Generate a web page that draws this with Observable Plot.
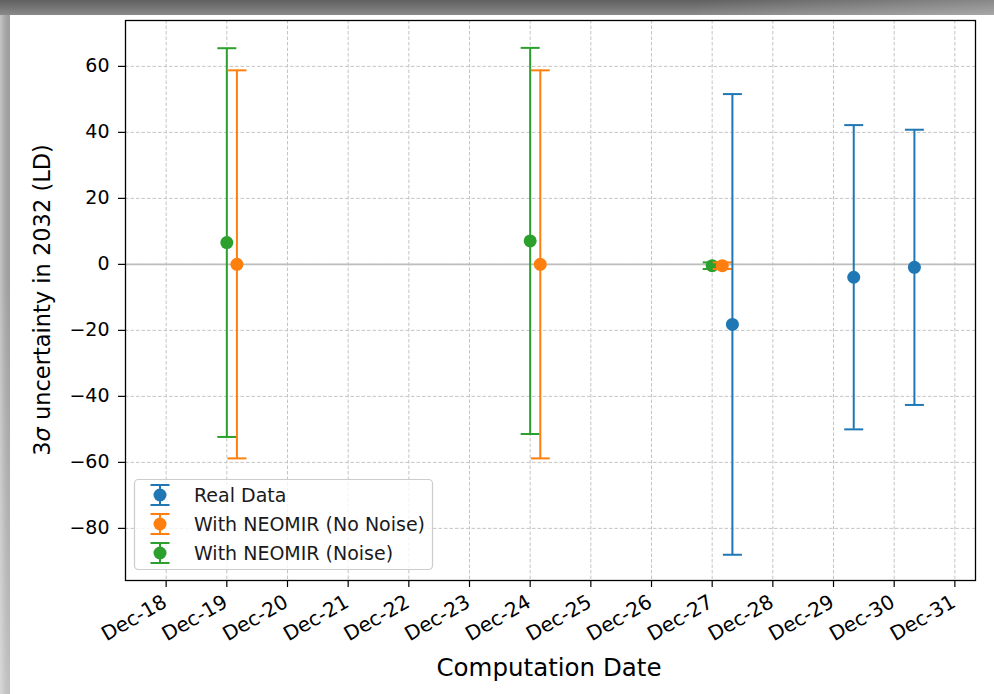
<!DOCTYPE html>
<html><head><meta charset="utf-8">
<script src="https://cdn.jsdelivr.net/npm/d3@7"></script>
<script src="https://cdn.jsdelivr.net/npm/@observablehq/plot@0.6"></script>
<style>
html,body{margin:0;padding:0;background:#fff;}
#wrap{position:relative;width:994px;height:694px;overflow:hidden;background:#fff;font-family:"DejaVu Sans",sans-serif;}
#chart{position:absolute;left:0;top:0;}
#topband{position:absolute;left:0;top:0;width:994px;height:15px;background:linear-gradient(to bottom,#606060,#8a8a8a);}
#topband2{position:absolute;left:0;top:0;width:994px;height:15px;background:linear-gradient(to right,rgba(255,255,255,0) 70%,rgba(255,255,255,0.25));}
#leftband{position:absolute;left:0;top:0;width:10px;height:694px;background:linear-gradient(to right,#c4c4c4,#a4a4a4 60%,#9c9c9c);}
#leftband2{position:absolute;left:0;top:0;width:10px;height:694px;background:linear-gradient(to bottom,rgba(255,255,255,0) 40%,rgba(255,255,255,0.35));}
</style>
</head><body>
<div id="wrap"><div id="chart"></div><div id="leftband"></div><div id="leftband2"></div><div id="topband"></div><div id="topband2"></div></div>
<script>
// ---- data ----
const seriesNames = ["Real Data", "With NEOMIR (No Noise)", "With NEOMIR (Noise)"];
const seriesColors = ["#1f77b4", "#ff7f0e", "#2ca02c"];

const realDates = ["2024-12-27T08:00Z", "2024-12-29T08:00Z", "2024-12-30T08:00Z"];
const realValues = [-18.2, -3.9, -0.9];
const realErrors = [69.8, 46.1, 41.7];

const noNoiseDates = ["2024-12-19T04:00Z", "2024-12-24T04:00Z", "2024-12-27T04:00Z"];
const noNoiseValues = [0.0, 0.0, -0.4];
const noNoiseErrors = [58.8, 58.8, 1.0];

const noiseDates = ["2024-12-19T00:00Z", "2024-12-24T00:00Z", "2024-12-27T00:00Z"];
const noiseValues = [6.6, 7.1, -0.4];
const noiseErrors = [58.9, 58.5, 1.0];

const xTickLabels = ["Dec-18","Dec-19","Dec-20","Dec-21","Dec-22","Dec-23","Dec-24","Dec-25","Dec-26","Dec-27","Dec-28","Dec-29","Dec-30","Dec-31"];
const yTicks = [-80, -60, -40, -20, 0, 20, 40, 60];
const xLabel = "Computation Date";
const yLabelParts = ["3", "σ", " uncertainty in 2032 (LD)"];

// ---- build ----
const parseTick = d3.utcParse("%Y-%b-%d");
const tickDates = xTickLabels.map(s => parseTick("2024-" + s));
function rows(dates, values, errors) {
  return dates.map((d, i) => ({date: new Date(d), value: values[i], lo: values[i] - errors[i], hi: values[i] + errors[i]}));
}
const series = [
  {data: rows(realDates, realValues, realErrors), color: seriesColors[0]},
  {data: rows(noNoiseDates, noNoiseValues, noNoiseErrors), color: seriesColors[1]},
  {data: rows(noiseDates, noiseValues, noiseErrors), color: seriesColors[2]}
];
const drawOrder = [2, 1, 0];

const capSymbol = {draw(ctx, size) { const r = Math.sqrt(size / Math.PI); ctx.moveTo(-r, 0); ctx.lineTo(r, 0); }};

const errMarks = [];
for (const s of drawOrder) {
  const {data, color} = series[s];
  errMarks.push(Plot.ruleX(data, {x: "date", y1: "lo", y2: "hi", stroke: color, strokeWidth: 2}));
  errMarks.push(Plot.dot(data, {x: "date", y: "lo", symbol: capSymbol, r: 9.5, stroke: color, strokeWidth: 2, fill: "none"}));
  errMarks.push(Plot.dot(data, {x: "date", y: "hi", symbol: capSymbol, r: 9.5, stroke: color, strokeWidth: 2, fill: "none"}));
  errMarks.push(Plot.dot(data, {x: "date", y: "value", r: 6.5, fill: color, stroke: "none"}));
}

const tickFmt = d3.utcFormat("%b-%d");
const chart = Plot.plot({
  width: 994, height: 694,
  marginLeft: 125, marginRight: 19, marginTop: 20, marginBottom: 114,
  style: {fontFamily: "'DejaVu Sans', sans-serif", fontSize: "19px", color: "#000", background: "transparent", overflow: "visible"},
  x: {type: "utc", domain: [new Date("2024-12-17T07:55Z"), new Date("2024-12-31T08:10Z")]},
  y: {domain: [-95.8, 73.9]},
  marks: [
    Plot.gridX(tickDates, {stroke: "#c4c4c4", strokeOpacity: 1, strokeWidth: 1, strokeDasharray: "3.5,2"}),
    Plot.gridY(yTicks, {stroke: "#c4c4c4", strokeOpacity: 1, strokeWidth: 1, strokeDasharray: "3.5,2"}),
    Plot.ruleY([0], {stroke: "#bdbdbd", strokeWidth: 1.6}),
    ...errMarks,
    Plot.frame({stroke: "#000", strokeWidth: 1.3}),
    // tick marks only
    Plot.axisX(tickDates, {tickFormat: () => "", tickSize: 7, label: null, stroke: "#000", strokeWidth: 1.2}),
    // rotated tick labels
    Plot.text(tickDates, {x: d => d, text: d => tickFmt(d), frameAnchor: "bottom", rotate: -30, textAnchor: "end", lineAnchor: "top", dy: 13, dx: -5, fontSize: 20, fill: "#000"}),
    Plot.axisY(yTicks, {tickSize: 7, tickPadding: 9, fontSize: 19, label: null, stroke: "#000", strokeWidth: 1.2, color: "#000"})
  ]
});
document.getElementById("chart").appendChild(chart);

// axis labels
const svg = d3.select(chart);
const yl = svg.append("text")
  .attr("transform", "translate(50,300) rotate(-90)")
  .attr("text-anchor", "middle")
  .attr("font-size", 22.5).attr("fill", "#000");
yl.append("tspan").text(yLabelParts[0]);
yl.append("tspan").attr("font-style", "italic").text(yLabelParts[1]);
yl.append("tspan").text(yLabelParts[2]);
svg.append("text").attr("x", 549).attr("y", 676).attr("text-anchor", "middle")
  .attr("font-size", 24.5).attr("fill", "#000").text(xLabel);

// legend
const lg = svg.append("g").attr("text-anchor", "start");
lg.append("rect").attr("x", 134.5).attr("y", 479.5).attr("width", 298).attr("height", 90).attr("rx", 4)
  .attr("fill", "rgba(255,255,255,0.8)").attr("stroke", "#cccccc").attr("stroke-width", 1.2);
seriesNames.forEach((name, i) => {
  const cy = 495 + i * 29, cx = 160, c = seriesColors[i];
  lg.append("line").attr("x1", cx).attr("x2", cx).attr("y1", cy - 10).attr("y2", cy + 10).attr("stroke", c).attr("stroke-width", 2);
  lg.append("line").attr("x1", cx - 9.5).attr("x2", cx + 9.5).attr("y1", cy - 10).attr("y2", cy - 10).attr("stroke", c).attr("stroke-width", 2);
  lg.append("line").attr("x1", cx - 9.5).attr("x2", cx + 9.5).attr("y1", cy + 10).attr("y2", cy + 10).attr("stroke", c).attr("stroke-width", 2);
  lg.append("circle").attr("cx", cx).attr("cy", cy).attr("r", 6.5).attr("fill", c);
  lg.append("text").attr("x", 194).attr("y", cy + 7).attr("font-size", 19).attr("text-anchor", "start").attr("fill", "#1a1a1a").text(name);
});
</script>
</body></html>
